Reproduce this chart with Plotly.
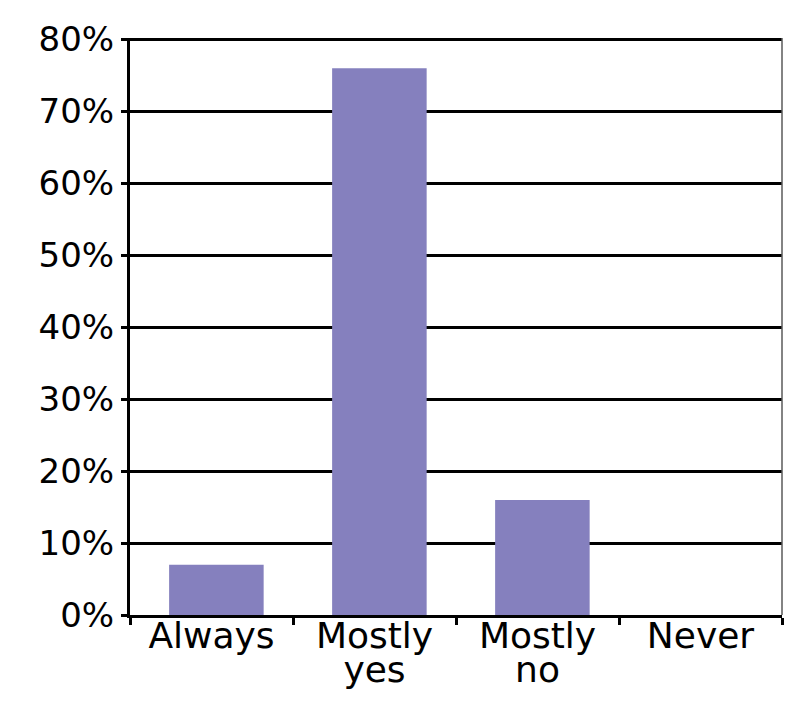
import plotly.graph_objects as go

categories = ["Always", "Mostly yes", "Mostly no", "Never"]
values = [7, 76, 16, 0]
y_ticks = [0, 10, 20, 30, 40, 50, 60, 70, 80]
y_tick_labels = [f"{v}%" for v in y_ticks]

bar_color = "rgb(133,128,190)"
font_family = "DejaVu Sans, Liberation Sans, Arial, sans-serif"
label_px = 36

# x tick labels: wrap two-word categories onto two lines, large text with tight line spacing
x_tick_labels = [
    "<br>".join(f"<span style='font-size:{label_px}px'>{w}</span>" for w in c.split(" "))
    for c in categories
]

fig = go.Figure(
    go.Bar(
        x=categories,
        y=values,
        marker=dict(color=bar_color, line=dict(width=0)),
        width=0.58,
        offset=-0.26,
    )
)

# page body has an 8px margin, so the figure is 792x701 and offset by 8px
fig.update_layout(
    width=792,
    height=701,
    margin=dict(l=122, r=18, t=30, b=94),
    paper_bgcolor="white",
    plot_bgcolor="white",
    showlegend=False,
    font=dict(family=font_family, color="black", size=34),
)

fig.update_xaxes(
    automargin=False,
    tickvals=categories,
    ticktext=x_tick_labels,
    showline=True,
    linecolor="black",
    linewidth=3,
    ticks="outside",
    tickson="boundaries",
    ticklen=7,
    tickwidth=3,
    tickcolor="black",
    showgrid=False,
    ticklabelstandoff=-2,
    tickfont=dict(size=26.5, family=font_family),
)

fig.update_yaxes(
    automargin=False,
    range=[0, 80.2],
    tickvals=y_ticks,
    ticktext=y_tick_labels,
    showline=True,
    linecolor="black",
    linewidth=3,
    ticks="outside",
    ticklen=6,
    tickwidth=3,
    tickcolor="black",
    showgrid=True,
    gridcolor="black",
    gridwidth=2.5,
    zeroline=False,
    ticklabelstandoff=0,
    tickfont=dict(size=34, family=font_family),
)

fig.add_shape(
    type="line",
    xref="paper", yref="paper",
    x0=1, x1=1, y0=0, y1=1,
    line=dict(color="rgb(90,90,90)", width=1.5),
)

fig.write_html("out.html")
